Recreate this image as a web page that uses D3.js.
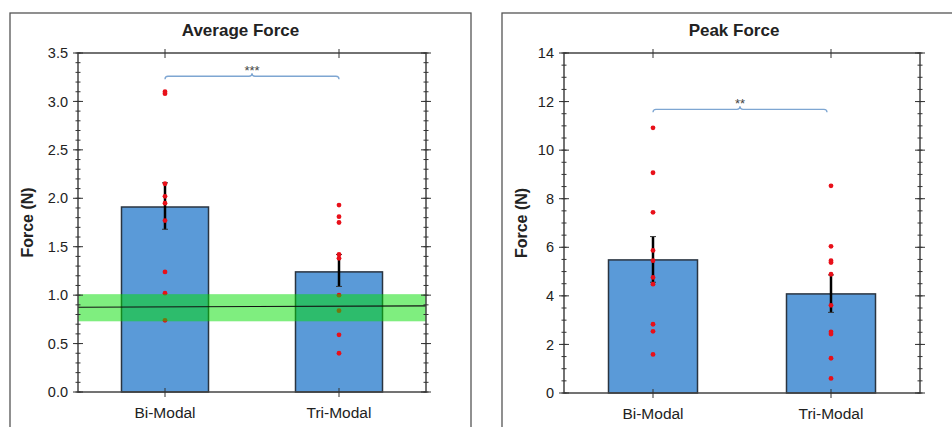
<!DOCTYPE html>
<html>
<head>
<meta charset="utf-8">
<script src="https://cdn.jsdelivr.net/npm/d3@7"></script>
<style>
  body { margin: 0; background: #fff; }
  text { font-family: "Liberation Sans", Arial, sans-serif; fill: #222; }
</style>
</head>
<body>
<svg id="chart"></svg>
<script>
const width = 952;
const height = 427;

// categories
const groups = ["Bi-Modal", "Tri-Modal"];

// Average force
const avgMeans = [1.91, 1.24];
const avgErrLow = [1.68, 1.09];
const avgErrHigh = [2.16, 1.42];
const avgPoints = [
    [3.10, 3.08, 2.15, 2.02, 1.95, 1.77, 1.24, 1.02, 0.74],
    [1.93, 1.81, 1.75, 1.42, 1.38, 1.00, 0.84, 0.59, 0.40]
];
const avgTicks = [0, 0.5, 1.0, 1.5, 2.0, 2.5, 3.0, 3.5];
const avgBand = [0.73, 1.01];       // green reference band
const avgBandLine = [0.875, 0.89];  // line through band (left end, right end)
const avgSig = ["***", 3.26];

// Peak force
const peakMeans = [5.48, 4.08];
const peakErrLow = [4.56, 3.32];
const peakErrHigh = [6.44, 4.86];
const peakPoints = [
    [10.92, 9.07, 7.44, 5.87, 5.45, 4.76, 4.48, 2.83, 2.54, 1.59],
    [8.53, 6.04, 5.45, 5.37, 4.89, 3.61, 2.52, 2.43, 1.43, 0.60]
];
const peakTicks = [0, 2, 4, 6, 8, 10, 12, 14];
const peakSig = ["**", 11.68];

const svg = d3.select("#chart")
    .attr("width", width)
    .attr("height", height);

const drawPanel = (opt) => {
    const g = svg.append("g");

    // outer frame
    g.append("rect")
        .attr("x", opt.frame[0]).attr("y", opt.frame[1])
        .attr("width", opt.frame[2]).attr("height", opt.frame[3])
        .attr("fill", "none").attr("stroke", "#555").attr("stroke-width", 1.3);

    g.append("text")
        .attr("x", opt.frame[0] + opt.frame[2] / 2)
        .attr("y", 36)
        .attr("text-anchor", "middle")
        .style("font-size", "17px")
        .style("font-weight", "bold")
        .text(opt.title);

    const x = d3.scalePoint()
        .domain(groups)
        .range([opt.left, opt.right])
        .padding(0.5);
    const y = d3.scaleLinear()
        .domain([0, opt.max])
        .range([opt.bottom, opt.top]);
    const barW = x.step() * 0.5;

    // bars
    g.selectAll(".bar")
        .data(groups)
        .enter()
        .append("rect")
        .attr("class", "bar")
        .attr("x", d => x(d) - barW / 2)
        .attr("y", (d, i) => y(opt.means[i]))
        .attr("width", barW)
        .attr("height", (d, i) => y(0) - y(opt.means[i]))
        .attr("fill", "#5a9ad8")
        .attr("stroke", "#2a3440")
        .attr("stroke-width", 1.5);

    // error bars
    groups.forEach((d, i) => {
        const cx = x(d);
        g.append("line")
            .attr("x1", cx).attr("x2", cx)
            .attr("y1", y(opt.errLow[i])).attr("y2", y(opt.errHigh[i]))
            .attr("stroke", "#000").attr("stroke-width", 2.5);
        [opt.errLow[i], opt.errHigh[i]].forEach(v => {
            g.append("line")
                .attr("x1", cx - 3).attr("x2", cx + 3)
                .attr("y1", y(v)).attr("y2", y(v))
                .attr("stroke", "#333").attr("stroke-width", 1);
        });
    });

    // individual points
    groups.forEach((d, i) => {
        g.selectAll(null)
            .data(opt.points[i])
            .enter()
            .append("circle")
            .attr("cx", x(d))
            .attr("cy", v => y(v))
            .attr("r", 2.4)
            .attr("fill", "#e8101a");
    });

    // reference band (drawn over bars, semi-transparent)
    if (opt.band) {
        g.append("rect")
            .attr("x", opt.left)
            .attr("y", y(opt.band[1]))
            .attr("width", opt.right - opt.left)
            .attr("height", y(opt.band[0]) - y(opt.band[1]))
            .attr("fill", "rgb(0,222,0)")
            .attr("fill-opacity", 0.5);
        g.append("line")
            .attr("x1", opt.left).attr("x2", opt.right)
            .attr("y1", y(opt.bandLine[0])).attr("y2", y(opt.bandLine[1]))
            .attr("stroke", "#111").attr("stroke-width", 1.2);
    }

    // significance bracket
    const x1 = x(groups[0]), x2 = x(groups[1]) - (opt.bracketTrim || 0);
    const by = y(opt.sig[1]);
    const mid = (x1 + x2) / 2;
    g.append("path")
        .attr("d", `M${x1},${by + 3} Q${x1},${by} ${x1 + 3},${by} L${mid - 3},${by} Q${mid},${by} ${mid},${by - 3} Q${mid},${by} ${mid + 3},${by} L${x2 - 3},${by} Q${x2},${by} ${x2},${by + 3}`)
        .attr("fill", "none")
        .attr("stroke", "#7ea6d2")
        .attr("stroke-width", 1.3);
    g.append("text")
        .attr("x", mid)
        .attr("y", by - 1)
        .attr("text-anchor", "middle")
        .style("font-size", "13px")
        .style("fill", "#444")
        .text(opt.sig[0]);

    // plot box
    g.append("rect")
        .attr("x", opt.left).attr("y", opt.top)
        .attr("width", opt.right - opt.left).attr("height", opt.bottom - opt.top)
        .attr("fill", "none").attr("stroke", "#444").attr("stroke-width", 1.5);

    // y ticks: major and minor on both sides
    const minor = d3.range(0, opt.max + 1e-9, opt.minorStep);
    [opt.left, opt.right].forEach(ax => {
        g.selectAll(null)
            .data(minor)
            .enter()
            .append("line")
            .attr("x1", ax - 2.5).attr("x2", ax + 2.5)
            .attr("y1", v => y(v)).attr("y2", v => y(v))
            .attr("stroke", "#333").attr("stroke-width", 1);
        g.selectAll(null)
            .data(opt.ticks)
            .enter()
            .append("line")
            .attr("x1", ax - 5).attr("x2", ax + 5)
            .attr("y1", v => y(v)).attr("y2", v => y(v))
            .attr("stroke", "#333").attr("stroke-width", 1);
    });

    g.selectAll(null)
        .data(opt.ticks)
        .enter()
        .append("text")
        .attr("x", opt.left - 10)
        .attr("y", v => y(v))
        .attr("dy", "0.35em")
        .attr("text-anchor", "end")
        .style("font-size", "14.5px")
        .text(v => opt.fmt(v));

    // x ticks at categories, top and bottom
    [opt.top, opt.bottom].forEach(ay => {
        g.selectAll(null)
            .data(groups)
            .enter()
            .append("line")
            .attr("x1", d => x(d)).attr("x2", d => x(d))
            .attr("y1", ay - 4).attr("y2", ay + 5)
            .attr("stroke", "#333").attr("stroke-width", 1);
    });

    g.selectAll(null)
        .data(groups)
        .enter()
        .append("text")
        .attr("x", d => x(d))
        .attr("y", opt.bottom + 26)
        .attr("text-anchor", "middle")
        .style("font-size", "15.5px")
        .text(d => d);

    g.append("text")
        .attr("transform", `translate(${opt.labelX}, ${(opt.top + opt.bottom) / 2}) rotate(-90)`)
        .attr("text-anchor", "middle")
        .style("font-size", "16px")
        .style("font-weight", "bold")
        .text("Force (N)");
};

drawPanel({
    frame: [10, 13, 461, 430],
    title: "Average Force",
    left: 78, right: 426, top: 53, bottom: 392,
    max: 3.5, ticks: avgTicks, minorStep: 0.1,
    fmt: d3.format(".1f"),
    means: avgMeans, errLow: avgErrLow, errHigh: avgErrHigh,
    points: avgPoints,
    band: avgBand, bandLine: avgBandLine,
    sig: avgSig,
    labelX: 33
});

drawPanel({
    frame: [502, 13, 464, 430],
    title: "Peak Force",
    left: 564, right: 920, top: 53, bottom: 393,
    max: 14, ticks: peakTicks, minorStep: 0.5,
    fmt: d3.format("d"),
    means: peakMeans, errLow: peakErrLow, errHigh: peakErrHigh,
    points: peakPoints,
    sig: peakSig,
    bracketTrim: 4,
    labelX: 527
});
</script>
</body>
</html>
